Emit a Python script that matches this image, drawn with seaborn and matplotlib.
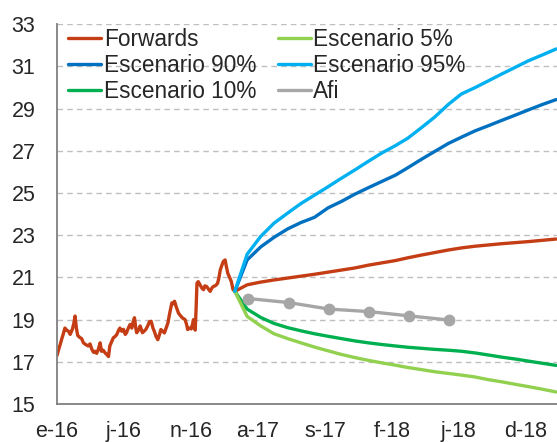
import pandas as pd
import matplotlib
matplotlib.use("Agg")
import matplotlib.pyplot as plt
import seaborn as sns

# --- historical price (days since 2016-01-01) ---
hist_days = [0, 4, 7, 11, 14, 18, 22, 26, 30, 35, 38, 41, 44, 47, 52, 56, 60, 65, 71, 75,
             79, 83, 86, 90, 94, 98, 101, 105, 109, 113, 117, 120, 124, 128, 132, 136, 140,
             143, 147, 151, 155, 158, 162, 166, 170, 173, 176, 179, 181, 185, 189, 192, 194,
             198, 202, 206, 210, 214, 218, 221, 225, 229, 233, 236, 240, 244, 248, 252, 256,
             261, 264, 267, 271, 276, 280, 285, 291, 294, 297, 301, 305, 308, 310, 312, 314,
             316, 318, 321, 325, 329, 333, 336, 340, 344, 348, 352, 355, 359, 362, 365, 368,
             371, 375, 378, 382, 384, 388, 392, 396, 400, 404]
hist_vals = [17.3, 17.6, 17.8, 18.1, 18.3, 18.6, 18.5, 18.45, 18.3, 18.55, 18.8, 19.17, 18.6,
             18.25, 18.15, 18.1, 17.9, 17.82, 17.75, 17.85, 17.6, 17.45, 17.5, 17.4, 17.6, 17.9,
             17.5, 17.55, 17.43, 17.35, 17.25, 17.75, 17.95, 18.14, 18.2, 18.3, 18.5, 18.6,
             18.45, 18.54, 18.3, 18.38, 18.6, 18.77, 18.6, 18.9, 19.09, 18.6, 18.38, 18.5, 18.7,
             18.5, 18.38, 18.45, 18.54, 18.7, 18.9, 18.92, 18.6, 18.45, 18.2, 18.05, 18.3, 18.53,
             18.45, 18.37, 18.6, 18.84, 19.3, 19.79, 19.75, 19.87, 19.6, 19.31, 19.2, 19.08, 19.0,
             18.8, 18.53, 18.6, 18.56, 18.8, 19.0, 18.8, 18.5, 19.5, 20.73, 20.8, 20.65, 20.5,
             20.42, 20.6, 20.57, 20.45, 20.34, 20.5, 20.57, 20.6, 20.65, 20.73, 21.0, 21.36, 21.6,
             21.76, 21.83, 21.6, 21.2, 21.0, 20.81, 20.42, 20.34]

# --- monthly scenarios from 2017-02-08 ---
forwards = [20.34, 20.65, 20.78, 20.88, 20.97, 21.06, 21.15, 21.25, 21.35, 21.45, 21.58, 21.69,
            21.8, 21.93, 22.06, 22.18, 22.3, 22.4, 22.48, 22.54, 22.6, 22.65, 22.7, 22.76, 22.82]
esc_95 = [20.34, 22.1, 22.95, 23.57, 24.05, 24.5, 24.9, 25.3, 25.7, 26.1, 26.5, 26.9, 27.25,
          27.6, 28.1, 28.6, 29.2, 29.7, 30.0, 30.33, 30.65, 30.97, 31.28, 31.55, 31.83]
esc_90 = [20.34, 21.83, 22.45, 22.9, 23.3, 23.6, 23.85, 24.3, 24.6, 24.95, 25.25, 25.55, 25.85,
          26.2, 26.6, 26.97, 27.35, 27.65, 27.95, 28.2, 28.45, 28.7, 28.95, 29.2, 29.43]
esc_10 = [20.34, 19.5, 19.1, 18.82, 18.62, 18.47, 18.33, 18.21, 18.1, 17.99, 17.9, 17.82, 17.75,
          17.69, 17.64, 17.59, 17.55, 17.5, 17.42, 17.32, 17.22, 17.13, 17.03, 16.93, 16.83]
esc_5 = [20.34, 19.15, 18.7, 18.33, 18.1, 17.9, 17.7, 17.52, 17.35, 17.2, 17.07, 16.95, 16.84,
         16.73, 16.63, 16.53, 16.45, 16.37, 16.28, 16.15, 16.05, 15.93, 15.82, 15.7, 15.57]

afi_dates = ["2017-03-10", "2017-06-10", "2017-09-10", "2017-12-10", "2018-03-10", "2018-06-10"]
afi_vals = [20.0, 19.81, 19.5, 19.38, 19.18, 18.98]

tick_dates = ["2016-01-01", "2016-06-01", "2016-11-01", "2017-04-01",
              "2017-09-01", "2018-02-01", "2018-07-01", "2018-12-01"]
tick_labels = ["e-16", "j-16", "n-16", "a-17", "s-17", "f-18", "j-18", "d-18"]

start = pd.Timestamp("2016-01-01")
hist = pd.DataFrame({"date": [start + pd.Timedelta(days=d) for d in hist_days], "v": hist_vals})
fdates = pd.date_range("2017-02-08", periods=len(forwards), freq=pd.DateOffset(months=1))
scen = pd.DataFrame({"date": fdates, "fw": forwards, "e95": esc_95, "e90": esc_90,
                     "e10": esc_10, "e5": esc_5})
fw_full = pd.concat([hist, pd.DataFrame({"date": fdates[1:], "v": forwards[1:]})])
afi = pd.DataFrame({"date": pd.to_datetime(afi_dates), "v": afi_vals})

sns.set_style("white")
plt.rcParams["font.family"] = ["Liberation Sans", "DejaVu Sans"]

fig = plt.figure(figsize=(5.57, 4.42), dpi=100)
ax = fig.add_axes([57 / 557, 1 - 404 / 442, 500 / 557, (404 - 24.3) / 442])

lw = 2.4
sns.lineplot(data=fw_full, x="date", y="v", ax=ax, color="#C43D14", lw=lw, label="Forwards")
sns.lineplot(data=scen, x="date", y="e90", ax=ax, color="#0070C0", lw=lw, label="Escenario 90%")
sns.lineplot(data=scen, x="date", y="e10", ax=ax, color="#00B050", lw=lw, label="Escenario 10%")
sns.lineplot(data=scen, x="date", y="e5", ax=ax, color="#92D050", lw=lw, label="Escenario 5%")
sns.lineplot(data=scen, x="date", y="e95", ax=ax, color="#00B0F0", lw=lw, label="Escenario 95%")
sns.lineplot(data=afi, x="date", y="v", ax=ax, color="#A6A6A6", lw=lw, marker="o",
             markersize=8.5, markeredgewidth=0, label="Afi")

ax.set_xlim(start, pd.Timestamp("2019-02-10"))
ax.set_ylim(15, 33)
ax.set_yticks(range(15, 34, 2))
ax.set_xticks(pd.to_datetime(tick_dates))
ax.set_xticklabels(tick_labels)
ax.set_xlabel("")
ax.set_ylabel("")

ax.yaxis.grid(True, color="#BFBFBF", linestyle=(0, (4, 3)), linewidth=1)
ax.set_axisbelow(True)
for s in ["top", "right"]:
    ax.spines[s].set_visible(False)
for s in ["left", "bottom"]:
    ax.spines[s].set_color("#808080")
    ax.spines[s].set_linewidth(1.3)
ax.tick_params(axis="y", length=6, width=1.3, color="#808080", pad=9.5, labelsize=15.5)
ax.tick_params(axis="x", length=5, width=1.3, color="#808080", pad=7.5, labelsize=15.5)

leg = ax.legend(ncol=2, loc="upper left", bbox_to_anchor=(0.0, 1.02), frameon=False,
                fontsize=16.3, handlelength=1.45, handletextpad=0.12, columnspacing=0.95,
                labelspacing=0.14, borderaxespad=0.1)
leg.legend_handles[-1].set_marker("")

fig.savefig("out.png", dpi=100)
